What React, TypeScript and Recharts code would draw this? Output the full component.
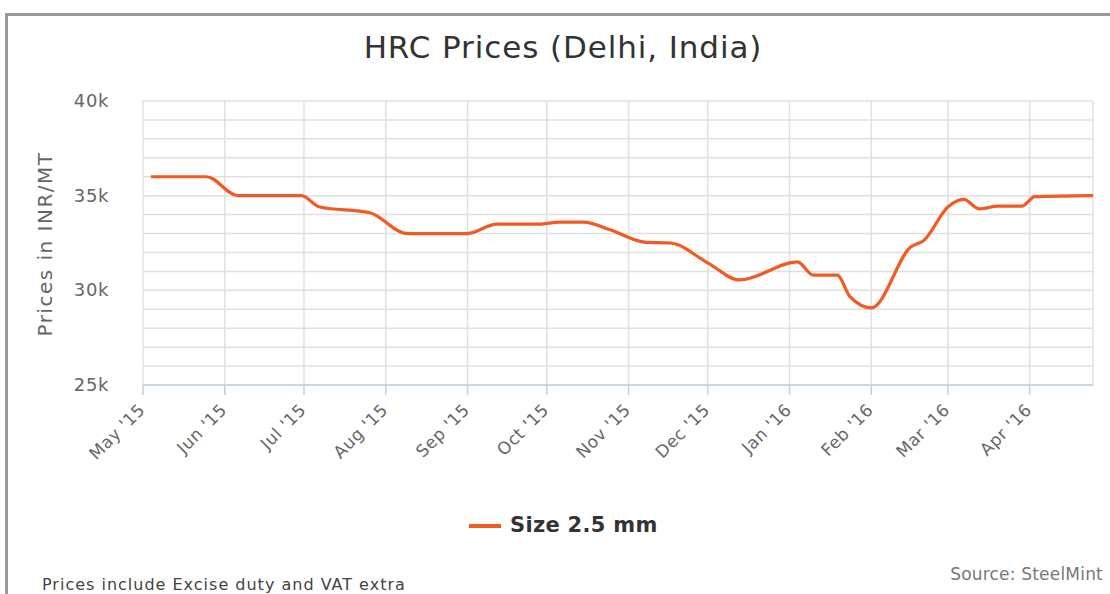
import { LineChart, Line, XAxis, YAxis, CartesianGrid } from "recharts";

// HRC price, Delhi, size 2.5 mm (INR/MT)
const priceDates = [
  "2015-05-04", "2015-05-25", "2015-06-06", "2015-06-30", "2015-07-07",
  "2015-07-26", "2015-08-09", "2015-09-01", "2015-09-12", "2015-09-28",
  "2015-10-06", "2015-10-15", "2015-10-25", "2015-11-07", "2015-11-17",
  "2015-12-01", "2015-12-13", "2016-01-04", "2016-01-10", "2016-01-19",
  "2016-01-24", "2016-02-01", "2016-02-16", "2016-02-21", "2016-03-01",
  "2016-03-07", "2016-03-13", "2016-03-20", "2016-03-29", "2016-04-03",
  "2016-04-25",
];
const priceValues = [
  36000, 36000, 35000, 35000, 34400,
  34100, 33000, 33000, 33500, 33500,
  33600, 33600, 33200, 32550, 32500,
  31450, 30550, 31500, 30800, 30800,
  29650, 29070, 32300, 32650, 34400,
  34800, 34300, 34450, 34450, 34950,
  35000,
];

const monthTicks = [
  "2015-05-01", "2015-06-01", "2015-07-01", "2015-08-01", "2015-09-01",
  "2015-10-01", "2015-11-01", "2015-12-01", "2016-01-01", "2016-02-01",
  "2016-03-01", "2016-04-01",
];
const monthLabels = [
  "May '15", "Jun '15", "Jul '15", "Aug '15", "Sep '15", "Oct '15",
  "Nov '15", "Dec '15", "Jan '16", "Feb '16", "Mar '16", "Apr '16",
];
const yTicks = [
  25000, 26000, 27000, 28000, 29000, 30000, 31000, 32000,
  33000, 34000, 35000, 36000, 37000, 38000, 39000, 40000,
];
const yLabels: Record<number, string> = { 25000: "25k", 30000: "30k", 35000: "35k", 40000: "40k" };

const toTime = (s: string) => Date.parse(s + "T00:00:00Z");

const data = priceDates.map((d, i) => ({ t: toTime(d), price: priceValues[i] }));
const xTicks = monthTicks.map(toTime);
const xDomain = [toTime("2015-05-01"), toTime("2016-04-25")];

const FONT = "'DejaVu Sans', sans-serif";
const LINE_COLOR = "#F15A22";

function YTick(props: any) {
  const { x, y, payload } = props;
  const label = yLabels[payload.value];
  if (!label) return null;
  return (
    <text
      x={x - 26}
      y={y + 6}
      textAnchor="end"
      fontSize={18}
      fill="#666"
      fontFamily={FONT}
      letterSpacing={0.6}
    >
      {label}
    </text>
  );
}

function XTick(props: any) {
  const { x, y, payload } = props;
  const idx = xTicks.indexOf(payload.value);
  const tx = x + 3;
  const ty = y + 14;
  return (
    <text
      x={tx}
      y={ty}
      textAnchor="end"
      fontSize={17}
      fill="#666"
      fontFamily={FONT}
      letterSpacing={0.5}
      transform={`rotate(-45, ${tx}, ${ty})`}
    >
      {monthLabels[idx]}
    </text>
  );
}

export default function App() {
  return (
    <div
      style={{
        position: "absolute",
        left: 0,
        top: 0,
        width: 1110,
        height: 594,
        overflow: "hidden",
        background: "#fff",
        fontFamily: FONT,
      }}
    >
      <div
        style={{
          position: "absolute",
          left: 5,
          top: 13,
          width: 1200,
          height: 700,
          border: "3px solid #999",
        }}
      />
      <div
        style={{
          position: "absolute",
          left: 563,
          top: 29,
          transform: "translateX(-50%)",
          whiteSpace: "nowrap",
          fontSize: 31,
          lineHeight: "36px",
          letterSpacing: 0.9,
          color: "#333",
        }}
      >
        HRC Prices (Delhi, India)
      </div>
      <div
        style={{
          position: "absolute",
          left: 45,
          top: 244,
          transform: "translate(-50%, -50%) rotate(-90deg)",
          whiteSpace: "nowrap",
          fontSize: 20,
          letterSpacing: 1.5,
          color: "#666",
        }}
      >
        Prices in INR/MT
      </div>

      <LineChart
        width={1110}
        height={594}
        data={data}
        margin={{ top: 101, right: 17, bottom: 129, left: 43 }}
        style={{ position: "absolute", left: 0, top: 0 }}
      >
        <CartesianGrid stroke="#e0e0e0" strokeWidth={1.5} />
        <XAxis
          dataKey="t"
          type="number"
          domain={xDomain}
          ticks={xTicks}
          height={80}
          axisLine={{ stroke: "#C0D0E0", strokeWidth: 1.5 }}
          tickLine={{ stroke: "#C0D0E0", strokeWidth: 1.5 }}
          tickSize={10}
          tick={<XTick />}
          interval={0}
          allowDataOverflow
        />
        <YAxis
          type="number"
          domain={[25000, 40000]}
          ticks={yTicks}
          width={100}
          axisLine={false}
          tickLine={false}
          tick={<YTick />}
          interval={0}
        />
        <Line
          type="monotone"
          dataKey="price"
          stroke={LINE_COLOR}
          strokeWidth={3.2}
          dot={false}
          isAnimationActive={false}
        />
      </LineChart>

      <div
        style={{
          position: "absolute",
          left: 469,
          top: 513,
          display: "flex",
          alignItems: "center",
          whiteSpace: "nowrap",
        }}
      >
        <span style={{ display: "inline-block", width: 32, height: 4, background: LINE_COLOR, marginRight: 9 }} />
        <span style={{ fontSize: 21, lineHeight: "25px", fontWeight: "bold", letterSpacing: 0.3, color: "#333" }}>
          Size 2.5 mm
        </span>
      </div>
      <div
        style={{
          position: "absolute",
          left: 42,
          top: 575,
          fontSize: 16,
          lineHeight: "19px",
          letterSpacing: 1,
          color: "#444",
          whiteSpace: "nowrap",
        }}
      >
        Prices include Excise duty and VAT extra
      </div>
      <div
        style={{
          position: "absolute",
          right: 7,
          top: 564,
          fontSize: 17,
          lineHeight: "20px",
          letterSpacing: 0.2,
          color: "#777",
          whiteSpace: "nowrap",
        }}
      >
        Source: SteelMint
      </div>
    </div>
  );
}
